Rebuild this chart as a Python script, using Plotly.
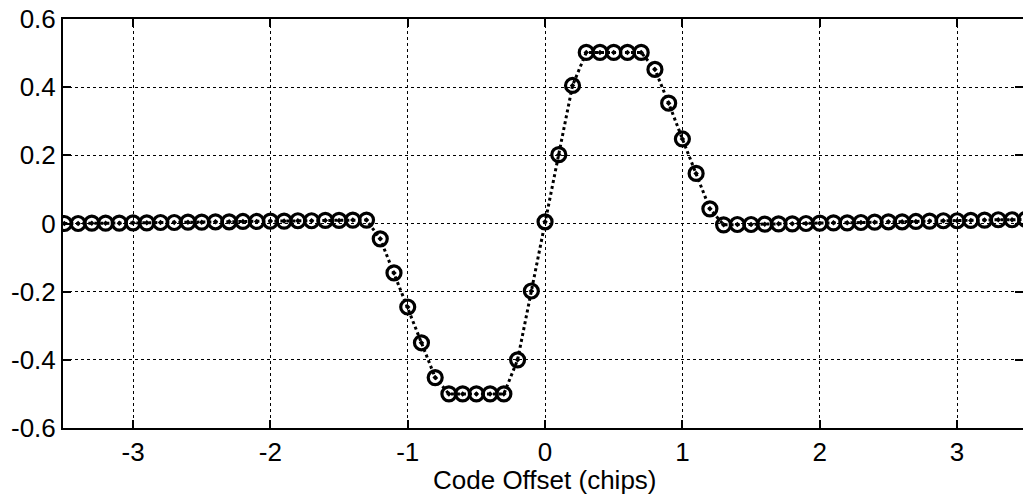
import plotly.graph_objects as go

# x: code offset in chips, step 0.1 from -3.5 to 3.5
code_offset = [round(-3.5 + 0.1 * i, 1) for i in range(71)]

left_flat = [0.000, 0.000, 0.001, 0.001, 0.001, 0.002, 0.002, 0.003, 0.003, 0.004,
             0.004, 0.005, 0.005, 0.006, 0.006, 0.007, 0.007, 0.008, 0.008, 0.009,
             0.009, 0.010, 0.010]
center = [-0.045, -0.145, -0.245, -0.350, -0.452, -0.500, -0.500, -0.500, -0.500, -0.500,
          -0.400, -0.198, 0.005, 0.202, 0.405, 0.502, 0.502, 0.502, 0.502, 0.502,
          0.452, 0.353, 0.248, 0.147, 0.043]
right_flat = [-0.004, -0.003, -0.003, -0.002, -0.001, -0.001, 0.000, 0.001, 0.002, 0.002,
              0.003, 0.004, 0.005, 0.005, 0.006, 0.007, 0.008, 0.008, 0.009, 0.010,
              0.011, 0.011, 0.012]
discriminator = left_flat + center + right_flat

x_ticks = [-3, -2, -1, 0, 1, 2, 3]
y_ticks = [-0.6, -0.4, -0.2, 0, 0.2, 0.4, 0.6]
y_tick_text = ["-0.6", "-0.4", "-0.2", "0", "0.2", "0.4", "0.6"]
x_title = "Code Offset (chips)"

fig = go.Figure()
fig.add_trace(go.Scatter(
    x=code_offset, y=discriminator, mode="lines+markers",
    line=dict(color="black", width=3, dash="dot"),
    marker=dict(symbol="circle-open-dot", size=14, color="black",
                line=dict(color="black", width=3.2)),
    showlegend=False,
))

font = dict(family="Liberation Sans, Arial, sans-serif", size=26, color="black")

fig.add_annotation(
    text=x_title, xref="x", x=0, yref="paper", y=-0.127,
    xanchor="center", yanchor="middle", showarrow=False, font=font,
)

fig.update_layout(
    width=1023, height=499,
    margin=dict(l=63, r=0, t=19, b=71),
    paper_bgcolor="white", plot_bgcolor="white",
    font=font,
    xaxis=dict(
        range=[-3.51, 3.48], tickvals=x_ticks, ticktext=[str(v) for v in x_ticks],
        showgrid=True, gridcolor="black", gridwidth=1, griddash="dot",
        zeroline=False, showline=True, linecolor="black", linewidth=2,
        mirror="ticks", ticks="inside", ticklen=8, tickwidth=2, tickcolor="black",
        tickfont=font, automargin=False,
    ),
    yaxis=dict(
        range=[-0.6, 0.6], tickvals=y_ticks, ticktext=y_tick_text,
        showgrid=True, gridcolor="black", gridwidth=1, griddash="dot",
        zeroline=False, showline=True, linecolor="black", linewidth=2,
        mirror="ticks", ticks="inside", ticklen=8, tickwidth=2, tickcolor="black",
        tickfont=font, automargin=False,
    ),
)

fig.write_html(
    "out.html",
    config={"displayModeBar": False},
    post_script="document.body.style.margin='0';document.body.style.overflow='hidden';",
)
